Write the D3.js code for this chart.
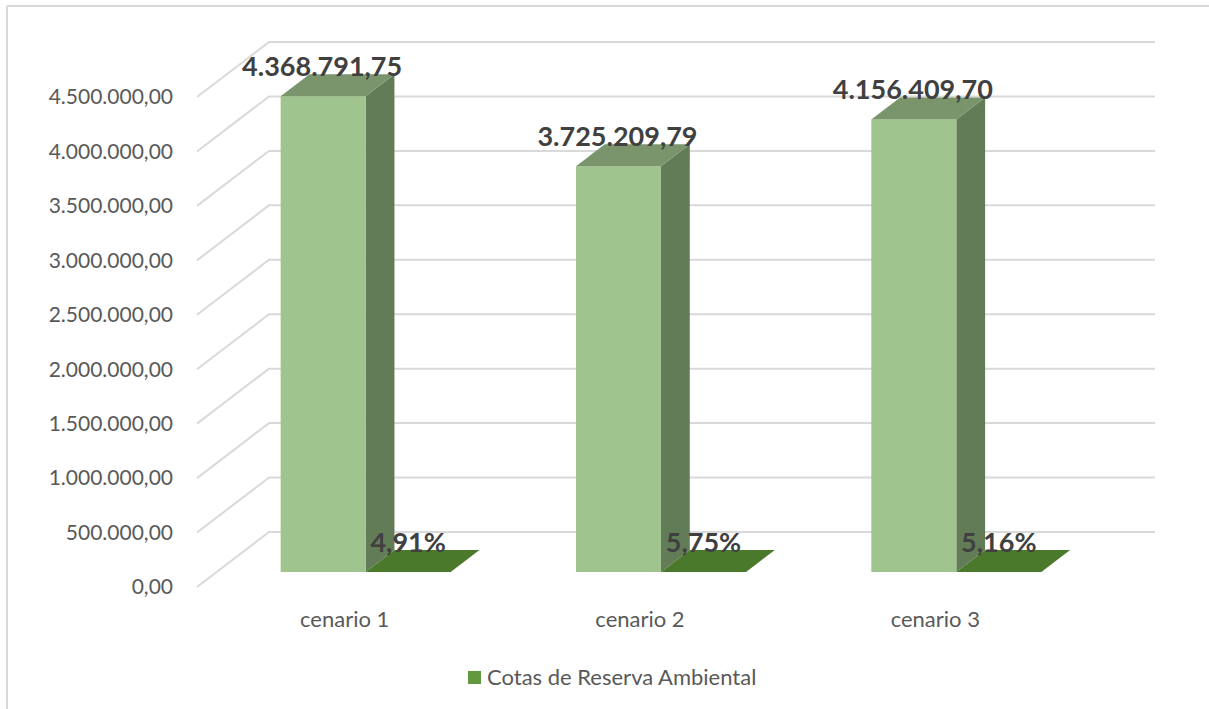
<!DOCTYPE html>
<html>
<head>
<meta charset="utf-8">
<script src="https://cdn.jsdelivr.net/npm/d3@7"></script>
<style>
  html, body { margin: 0; padding: 0; background: #fff; }
  svg { display: block; }
  text { font-family: Lato, "Open Sans", "Liberation Sans", sans-serif; }
</style>
</head>
<body>
<svg id="chart" width="1209" height="709"></svg>
<script>
// ---- data ----
const categories = ["cenario 1", "cenario 2", "cenario 3"];
const valores = [4368791.75, 3725209.79, 4156409.70];
const percentuais = [0.0491, 0.0575, 0.0516];
const tickValues = [0, 500000, 1000000, 1500000, 2000000, 2500000, 3000000, 3500000, 4000000, 4500000];
const legendLabel = "Cotas de Reserva Ambiental";

// ---- layout ----
const W = 1209, H = 709;
const svg = d3.select("#chart");
const locale = d3.formatLocale({ decimal: ",", thousands: ".", grouping: [3], currency: ["R$", ""] });
const fmtNum = locale.format(",.2f");
const fmtPct = v => locale.format(".2f")(v * 100) + "%";

const frontLeft = 197, frontRight = 1083;
const y = d3.scaleLinear().domain([0, 4500000]).range([587, 97]);
const x = d3.scaleBand().domain(categories).range([frontLeft, frontRight]).padding(0);
const series = ["valor", "pct"];
const xs = d3.scaleBand().domain(series).range([64, 234]).padding(0);
// depth projection (fraction of depth -> pixel offset)
const depth = d3.scaleLinear().domain([0, 1]).range([0, 72]);
const depthY = d3.scaleLinear().domain([0, 1]).range([0, -55]);
const d0 = 0.273, d1 = 0.673;

const P = (px, py, d) => [px + depth(d), py + depthY(d)];
const line = d3.line();

// chart border (top & left visible)
svg.append("line").attr("x1", 7).attr("x2", W).attr("y1", 6).attr("y2", 6)
  .attr("stroke", "#d9d9d9").attr("stroke-width", 2);
svg.append("line").attr("x1", 7).attr("x2", 7).attr("y1", 6).attr("y2", H)
  .attr("stroke", "#d9d9d9").attr("stroke-width", 2);

// gridlines: side wall diagonal + back wall horizontal
const grid = svg.append("g").attr("fill", "none").attr("stroke", "#d9d9d9").attr("stroke-width", 2);
tickValues.forEach(v => {
  const a = P(frontLeft, y(v), 0), b = P(frontLeft, y(v), 1), c = P(frontRight, y(v), 1);
  grid.append("path").attr("d", line([a, b, c]));
});

// y axis labels
svg.append("g").selectAll("text").data(tickValues).join("text")
  .attr("x", 173).attr("y", d => y(d)).attr("dy", "0.35em")
  .attr("text-anchor", "end").attr("font-size", 21).attr("fill", "#595959")
  .text(d => fmtNum(d));

// category labels
svg.append("g").selectAll("text").data(categories).join("text")
  .attr("x", d => x(d) + x.bandwidth() / 2).attr("y", 627)
  .attr("text-anchor", "middle").attr("font-size", 22).attr("fill", "#595959")
  .text(d => d);

function drawBar(g, left, w, v, cFront, cTop, cSide) {
  const x0 = left, x1 = left + w, yt = y(v), yb = y(0);
  const f = [P(x0, yb, d0), P(x1, yb, d0), P(x1, yt, d0), P(x0, yt, d0)];
  const t = [P(x0, yt, d0), P(x1, yt, d0), P(x1, yt, d1), P(x0, yt, d1)];
  const s = [P(x1, yb, d0), P(x1, yb, d1), P(x1, yt, d1), P(x1, yt, d0)];
  g.append("path").attr("d", line(s) + "Z").attr("fill", cSide);
  g.append("path").attr("d", line(f) + "Z").attr("fill", cFront);
  g.append("path").attr("d", line(t) + "Z").attr("fill", cTop);
}

const bars = svg.append("g");
categories.forEach((c, i) => {
  const base = x(c);
  drawBar(bars, base + xs("valor"), xs.bandwidth(), valores[i], "#a0c48d", "#7a956b", "#637c58");
  drawBar(bars, base + xs("pct"), xs.bandwidth(), percentuais[i], "#4b7a2c", "#4a792b", "#46722a");
});

// data labels
const labels = svg.append("g").attr("font-weight", "bold").attr("fill", "#404040")
  .attr("font-size", 27).attr("text-anchor", "middle");
categories.forEach((c, i) => {
  const base = x(c);
  const p1 = P(base + xs("valor") + xs.bandwidth() / 2, y(valores[i]), d0);
  labels.append("text").attr("x", p1[0] - 1).attr("y", p1[1] - 20).text(fmtNum(valores[i]));
  const p2 = P(base + xs("pct") + xs.bandwidth() / 2, y(percentuais[i]), d0);
  labels.append("text").attr("x", p2[0]).attr("y", p2[1] - 20).text(fmtPct(percentuais[i]));
});

// legend
const lg = svg.append("g");
lg.append("rect").attr("x", 468).attr("y", 671).attr("width", 13).attr("height", 13).attr("fill", "#62993e");
lg.append("text").attr("x", 487).attr("y", 685).attr("font-size", 22).attr("fill", "#595959").text(legendLabel);
</script>
</body>
</html>
